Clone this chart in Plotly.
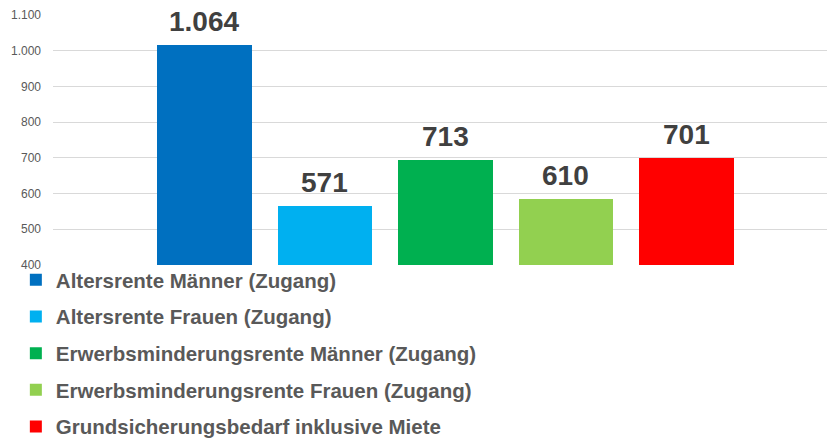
import plotly.graph_objects as go

series_names = [
    "Altersrente Männer (Zugang)",
    "Altersrente Frauen (Zugang)",
    "Erwerbsminderungsrente Männer (Zugang)",
    "Erwerbsminderungsrente Frauen (Zugang)",
    "Grundsicherungsbedarf inklusive Miete",
]
bar_values = [1017, 564, 694, 586, 700]
label_texts = ["1.064", "571", "713", "610", "701"]
colors = ["#0070C0", "#00B0F0", "#00B050", "#92D050", "#FF0000"]
tick_vals = [400, 500, 600, 700, 800, 900, 1000, 1100]

fig = go.Figure()
for i, (name, v, c) in enumerate(zip(series_names, bar_values, colors)):
    fig.add_trace(go.Bar(
        x=[i], y=[v], name=name,
        marker=dict(color=c, line=dict(width=0)), width=0.788,
        legendgroup=f"g{i}",
    ))

for i, (v, t) in enumerate(zip(bar_values, label_texts)):
    fig.add_annotation(
        x=i, y=v, text=t, showarrow=False, xref="x", yref="y",
        yanchor="bottom", yshift=6,
        font=dict(family="Liberation Sans, Arial", size=28, color="#404040", weight="bold"),
    )

fig.update_layout(
    width=827, height=439,
    margin=dict(l=53, r=0, t=15, b=174, autoexpand=False),
    paper_bgcolor="white", plot_bgcolor="white",
    separators=",.",
    font=dict(family="Liberation Sans, Arial", color="#595959"),
    showlegend=True,
    legend=dict(
        orientation="v", x=-0.048, xanchor="left", y=0.02, yanchor="top",
        font=dict(size=20.5, color="#595959", weight="bold"),
        tracegroupgap=7, traceorder="grouped",
        bgcolor="rgba(0,0,0,0)",
    ),
    xaxis=dict(range=[-1.257, 5.166], showticklabels=False, showgrid=False,
               zeroline=False, showline=False, ticks=""),
    yaxis=dict(range=[400, 1100], tickvals=tick_vals, tickformat=",d",
               showgrid=True, gridcolor="#D9D9D9", gridwidth=1,
               zeroline=False, showline=False, ticks="",
               tickfont=dict(size=12, color="#595959"), ticklabelstandoff=11),
    bargap=0,
)

fig.write_html("out.html", config={"displayModeBar": False},
               post_script="document.body.style.margin='0';")
